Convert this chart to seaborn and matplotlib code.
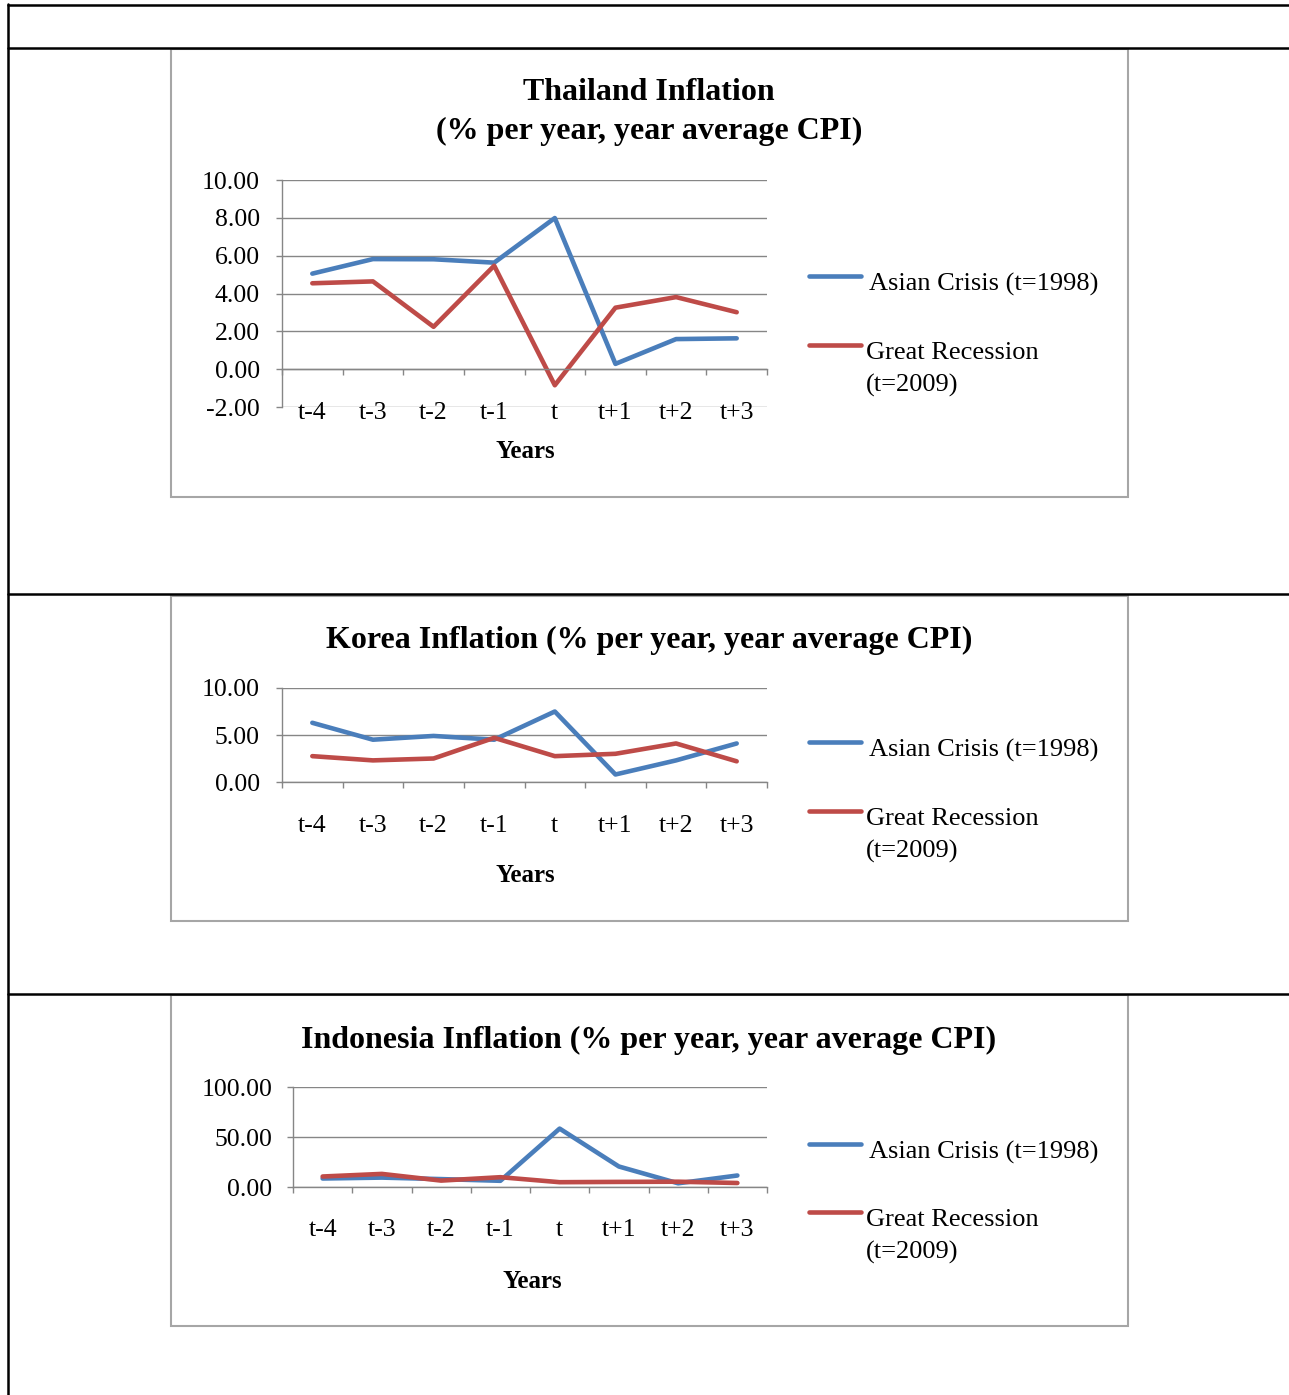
import numpy as np
import pandas as pd
import matplotlib
matplotlib.use("Agg")
import matplotlib.pyplot as plt
from matplotlib.lines import Line2D
from matplotlib.patches import Rectangle
import seaborn as sns

# ---- data -------------------------------------------------------------
periods = ["t-4", "t-3", "t-2", "t-1", "t", "t+1", "t+2", "t+3"]
series_names = ["Asian Crisis (t=1998)", "Great Recession (t=2009)"]

thailand_asian = [5.05, 5.82, 5.81, 5.63, 7.99, 0.28, 1.59, 1.63]
thailand_recession = [4.54, 4.64, 2.24, 5.47, -0.85, 3.25, 3.81, 3.01]

korea_asian = [6.3, 4.5, 4.9, 4.5, 7.5, 0.8, 2.3, 4.1]
korea_recession = [2.75, 2.3, 2.5, 4.7, 2.75, 3.0, 4.1, 2.2]

indonesia_asian = [8.5, 9.4, 7.9, 6.2, 58.4, 20.5, 3.7, 11.5]
indonesia_recession = [10.5, 13.1, 6.4, 9.8, 4.8, 5.1, 5.3, 4.0]

thailand_yticks = [-2, 0, 2, 4, 6, 8, 10]
korea_yticks = [0, 5, 10]
indonesia_yticks = [0, 50, 100]

# ---- style ------------------------------------------------------------
BLUE = "#4A7EBB"
RED = "#BE4B48"
GRID = "#868686"
BOX = "#a6a6a6"
LINE_W = 3.3

sns.set_theme(style="white")
plt.rcParams["font.family"] = ["Liberation Serif", "DejaVu Serif"]
plt.rcParams["text.color"] = "black"
plt.rcParams["axes.unicode_minus"] = False

W, H = 1289, 1395
fig = plt.figure(figsize=(W / 100, H / 100), dpi=100)
fig.patch.set_facecolor("white")


def fx(x):
    return x / W


def fy(y):
    return 1 - y / H


# page table rules
def hline(y, x0=8, x1=W):
    fig.add_artist(Line2D([fx(x0), fx(x1)], [fy(y), fy(y)], color="black", lw=1.8,
                          transform=fig.transFigure))


fig.add_artist(Line2D([fx(8), fx(8)], [fy(4), fy(H)], color="black", lw=1.8,
                      transform=fig.transFigure))
for yy in (5, 47.5, 593.5, 993.5):
    hline(yy)


def chart_box(top, bottom, left=171, right=1128):
    fig.add_artist(Rectangle((fx(left), fy(bottom)), fx(right - left), (bottom - top) / H,
                             transform=fig.transFigure, fill=False, edgecolor=BOX, lw=1.5))


def draw_panel(rect, asian, recession, yticks, label_dy, ylabel_pad):
    left, right, top, bottom = rect
    ax = fig.add_axes([fx(left), fy(bottom), fx(right - left), (bottom - top) / H])
    df = pd.DataFrame({
        "pos": list(range(len(periods))) * 2,
        "value": list(asian) + list(recession),
        "series": [series_names[0]] * len(periods) + [series_names[1]] * len(periods),
    })
    sns.lineplot(data=df, x="pos", y="value", hue="series", hue_order=series_names,
                 palette=[BLUE, RED], linewidth=LINE_W, legend=False, sort=False, ax=ax,
                 solid_capstyle="round", solid_joinstyle="round")
    ax.set_xlim(-0.5, len(periods) - 0.5)
    ax.set_ylim(yticks[0], yticks[-1])
    ax.set_yticks(yticks)
    ax.yaxis.set_major_formatter("{x:.2f}")
    ax.grid(axis="y", color=GRID, lw=1.0)
    ax.grid(axis="x", visible=False)
    ax.set_axisbelow(True)
    ax.set_facecolor("none")
    for s in ("top", "right"):
        ax.spines[s].set_visible(False)
    ax.spines["left"].set_color(GRID)
    ax.spines["left"].set_linewidth(1.0)
    ax.spines["bottom"].set_position(("data", 0))
    ax.spines["bottom"].set_color(GRID)
    ax.spines["bottom"].set_linewidth(1.0)
    ax.set_xticks(np.arange(-0.5, len(periods), 1.0))
    ax.set_xticklabels([])
    ax.tick_params(axis="x", direction="out", length=4.5, width=1.0, color=GRID, bottom=True)
    ax.tick_params(axis="y", direction="out", length=4, width=1.0, color=GRID, left=True,
                   pad=ylabel_pad, labelsize=18.5, labelcolor="black")
    ax.set_xlabel("")
    ax.set_ylabel("")
    for i, p in enumerate(periods):
        ax.annotate(p, xy=(i, 0), xycoords=("data", "axes fraction"),
                    xytext=(0, -label_dy), textcoords="offset pixels",
                    ha="center", va="center", fontsize=18.5)
    return ax


def legend(y_blue, y_red):
    fig.add_artist(Line2D([fx(809), fx(861)], [fy(y_blue), fy(y_blue)], color=BLUE, lw=LINE_W,
                          solid_capstyle="round", transform=fig.transFigure))
    fig.add_artist(Line2D([fx(809), fx(861)], [fy(y_red), fy(y_red)], color=RED, lw=LINE_W,
                          solid_capstyle="round", transform=fig.transFigure))
    fig.text(fx(869), fy(y_blue + 8), "Asian Crisis (t=1998)", ha="left", va="center",
             fontsize=19)
    fig.text(fx(866), fy(y_red + 8), "Great Recession", ha="left", va="center", fontsize=19)
    fig.text(fx(866), fy(y_red + 40), "(t=2009)", ha="left", va="center", fontsize=19)


TITLE_FS = 23

# ---- Thailand ----------------------------------------------------------
chart_box(49, 497)
fig.text(fx(649), fy(93), "Thailand Inflation", ha="center", va="center",
         fontsize=TITLE_FS, fontweight="bold")
fig.text(fx(649), fy(131), "(% per year, year average CPI)", ha="center", va="center",
         fontsize=TITLE_FS, fontweight="bold")
draw_panel((282, 767, 180, 407), thailand_asian, thailand_recession, thailand_yticks,
           label_dy=6, ylabel_pad=12)
fig.text(fx(525), fy(452), "Years", ha="center", va="center", fontsize=18, fontweight="bold")
legend(276, 345)

# ---- Korea ------------------------------------------------------------
chart_box(596, 921)
fig.text(fx(649), fy(640), "Korea Inflation (% per year, year average CPI)", ha="center",
         va="center", fontsize=TITLE_FS, fontweight="bold")
draw_panel((282, 767, 688, 782), korea_asian, korea_recession, korea_yticks,
           label_dy=44, ylabel_pad=12)
fig.text(fx(525), fy(876), "Years", ha="center", va="center", fontsize=18, fontweight="bold")
legend(742, 811)

# ---- Indonesia --------------------------------------------------------
chart_box(995, 1326)
fig.text(fx(649), fy(1040), "Indonesia Inflation (% per year, year average CPI)",
         ha="center", va="center", fontsize=TITLE_FS, fontweight="bold")
draw_panel((293, 767, 1087, 1187), indonesia_asian, indonesia_recession, indonesia_yticks,
           label_dy=43, ylabel_pad=11)
fig.text(fx(532), fy(1281), "Years", ha="center", va="center", fontsize=18, fontweight="bold")
legend(1144, 1212)

fig.savefig("out.png", dpi=100, facecolor="white")
